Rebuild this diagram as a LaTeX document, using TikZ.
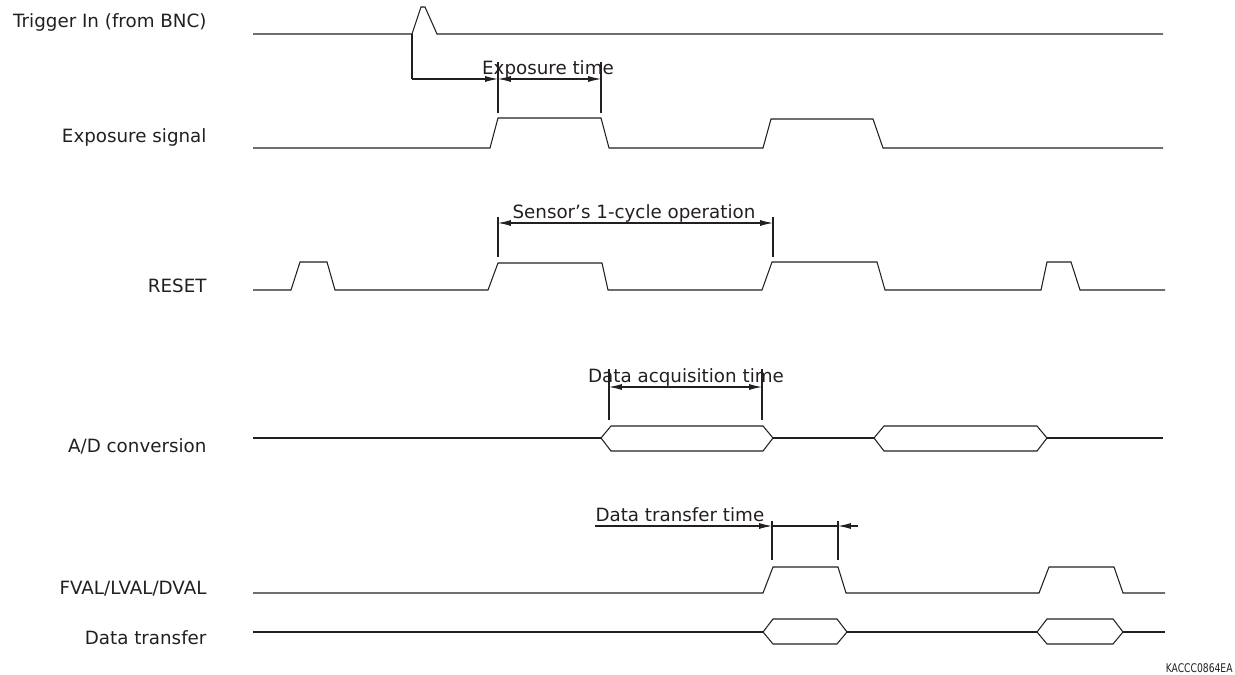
\documentclass[tikz,border=0pt]{standalone}
\usepackage{fontspec}
\setmainfont{DejaVu Sans}
\usetikzlibrary{arrows.meta}
\definecolor{ink}{RGB}{35,31,32}

\begin{document}
\begin{tikzpicture}
	[
	x=0.025cm, y=-0.025cm, color=ink, line width=0.75pt, line join=miter,
	>={Latex[length=3.2mm,width=1.5mm]},
	%Voreinstellung fuer Beschriftungen
	sig/.style={anchor=base east, inner sep=0pt, font=\fontsize{13}{15}\selectfont},
	dim/.style={anchor=base, inner sep=0pt, font=\fontsize{13}{15}\selectfont}
	]
	
	\useasboundingbox (0,0) rectangle (1235,675);
	
	%Signalnamen
	\node [sig] (trig) at (207,28) {Trigger In (from BNC)};
	\node [sig] (expo) at (207,143) {Exposure signal};
	\node [sig] (reset) at (207,292) {RESET};
	\node [sig] (adc) at (207,452) {A/D conversion};
	\node [sig] (fval) at (207,594) {FVAL/LVAL/DVAL};
	\node [sig] (xfer) at (207,644) {Data transfer};
	
	%Trigger
	\draw (253,34) -- (412,34) -- (421,7) -- (425,7) -- (437,34) -- (1163,34);
	
	%Exposure
	\draw (253,148) -- (490,148) -- (498,118) -- (601,118) -- (609,148) -- (763,148) -- (771,119) -- (873,119) -- (883,148) -- (1163,148);
	
	%RESET
	\draw (253,290) -- (291,290) -- (300,262) -- (327,262) -- (335,290) -- (488,290) -- (498,263) -- (602,263) -- (608,290) -- (762,290) -- (772,262) -- (877,262) -- (885,290) -- (1041,290) -- (1047,262) -- (1071,262) -- (1080,290) -- (1165,290);
	
	%A/D
	\draw (253,438) -- (601,438);
	\draw (773,438) -- (874,438);
	\draw (1047,438) -- (1163,438);
	\foreach \a/\b in {601/773, 874/1047}
	\draw (\a,438) -- (\a+10,426) -- (\b-10,426) -- (\b,438) -- (\b-10,451) -- (\a+10,451) -- cycle;
	
	%FVAL/LVAL/DVAL
	\draw (253,593) -- (763,593) -- (773,567) -- (838,567) -- (846,593) -- (1039,593) -- (1049,567) -- (1114,567) -- (1123,593) -- (1165,593);
	
	%Data transfer
	\draw (253,632) -- (763,632);
	\draw (847,632) -- (1037,632);
	\draw (1123,632) -- (1165,632);
	\foreach \a/\b in {763/847, 1037/1123}
	\draw (\a,632) -- (\a+10,619) -- (\b-10,619) -- (\b,632) -- (\b-10,644) -- (\a+10,644) -- cycle;
	
	%Exposure time
	\coordinate (et1) at (498,79);
	\coordinate (et2) at (601,79);
	\draw (412,34) -- (412,79) coordinate (tg);
	\draw [->] (tg) -- (et1);
	\draw (498,62) -- (498,113);
	\draw (601,62) -- (601,113);
	\draw [<->] (et1) -- (et2);
	\node [dim] (etime) at (548,75) {Exposure time};
	
	%Sensor's 1-cycle operation
	\coordinate (sc1) at (498,223);
	\coordinate (sc2) at (773,223);
	\draw (498,217) -- (498,257);
	\draw (773,217) -- (773,257);
	\draw [<->] (sc1) -- (sc2);
	\node [dim] (cycle) at (634,219) {Sensor’s 1-cycle operation};
	
	%Data acquisition time
	\coordinate (da1) at (609,387);
	\coordinate (da2) at (762,387);
	\draw (609,369) -- (609,420);
	\draw (762,369) -- (762,420);
	\draw [<->] (da1) -- (da2);
	\node [dim] (acq) at (686,382) {Data acquisition time};
	
	%Data transfer time
	\coordinate (dt0) at (595,526);
	\coordinate (dt1) at (772,526);
	\coordinate (dt2) at (838,526);
	\coordinate (dt3) at (858,526);
	\draw (772,521) -- (772,560);
	\draw (838,521) -- (838,560);
	\draw [->] (dt0) -- (dt1);
	\draw (dt1) -- (dt2);
	\draw [->] (dt3) -- (dt2);
	\node [dim, anchor=base west] (ttime) at (595,521) {Data transfer time};
	
	%Kennung
	\node [anchor=base east, inner sep=0pt, xscale=0.77, font=\fontsize{8.5}{10}\selectfont] (code) at (1233,672) {KACCC0864EA};
\end{tikzpicture}
\end{document}
